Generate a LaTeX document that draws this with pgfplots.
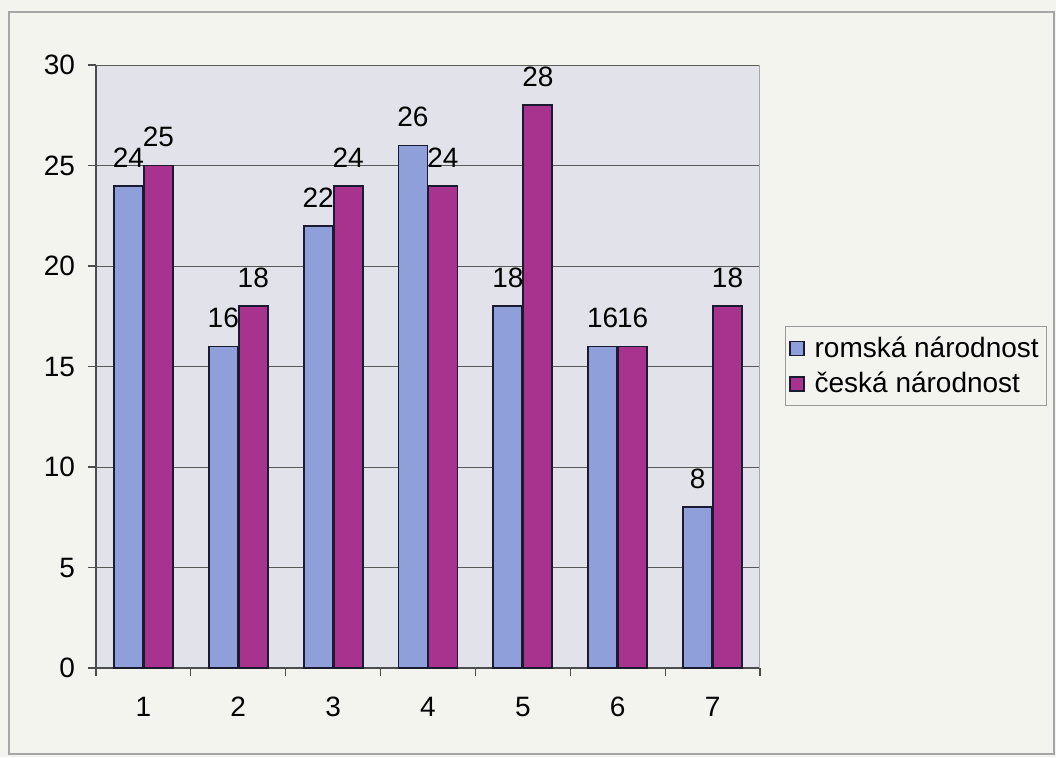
\documentclass[border=0pt]{standalone}
\usepackage{fontspec}
\setmainfont{Liberation Sans}
\usepackage{pgfplots}
\pgfplotsset{compat=1.18}
\definecolor{bgc}{HTML}{F4F4EF}
\definecolor{plotbg}{HTML}{E2E2EA}
\definecolor{romc}{HTML}{8E9FDA}
\definecolor{cesc}{HTML}{A8338F}
\definecolor{edgec}{HTML}{1A1A30}
\begin{document}
\begin{tikzpicture}
\fill[bgc] (0,0) rectangle (528pt,-378.5pt);
\draw[gray!70, line width=0.7pt] (4.5pt,-6pt) rectangle (527pt,-377pt);
\begin{axis}[
  at={(48pt,-334pt)}, anchor=south west,
  scale only axis, width=332pt, height=301.5pt,
  xmin=0.5, xmax=7.5, ymin=0, ymax=30,
  ybar=0.5pt, bar width=14.5pt,
  axis background/.style={fill=plotbg},
  axis lines*=left,
  axis line style={draw=black!70, line width=0.7pt},
  ytick={0,5,...,30},
  xtick={1,...,7},
  minor xtick={0.5,1.5,...,7.5},
  major x tick style={draw=none},
  tick align=outside,
  major tick length=4pt, minor tick length=4pt,
  tick style={draw=black!70, line width=0.6pt},
  ymajorgrids,
  grid style={draw=black!65, line width=0.5pt},
  ticklabel style={font=\fontsize{14}{16}\selectfont},
  /pgf/number format/assume math mode=true,
  xticklabel style={yshift=-7pt},
  yticklabel style={xshift=-3pt},
  nodes near coords,
  every node near coord/.append style={font=\fontsize{14}{16}\selectfont, text=black, yshift=5.5pt},
  legend style={at={(1.0377,0.567)}, anchor=north west, draw=gray!80, fill=bgc,
    font=\fontsize{14}{16}\selectfont, row sep=2pt, inner xsep=2pt, inner ysep=3pt,
    cells={anchor=west},
    /tikz/every odd column/.append style={column sep=3pt}},
  legend image code/.code={\draw[#1, draw=edgec, line width=0.6pt] (0pt,-3.5pt) rectangle (7pt,3.5pt);},
]
\addplot[fill=romc, draw=edgec, line width=0.9pt] coordinates {(1,24) (2,16) (3,22) (4,26) (5,18) (6,16) (7,8)};
\addplot[fill=cesc, draw=edgec, line width=0.9pt] coordinates {(1,25) (2,18) (3,24) (4,24) (5,28) (6,16) (7,18)};
\legend{romská národnost, česká národnost}
\draw[black!35, line width=0.5pt] (axis cs:7.5,0) -- (axis cs:7.5,30);
\end{axis}
\end{tikzpicture}
\end{document}
